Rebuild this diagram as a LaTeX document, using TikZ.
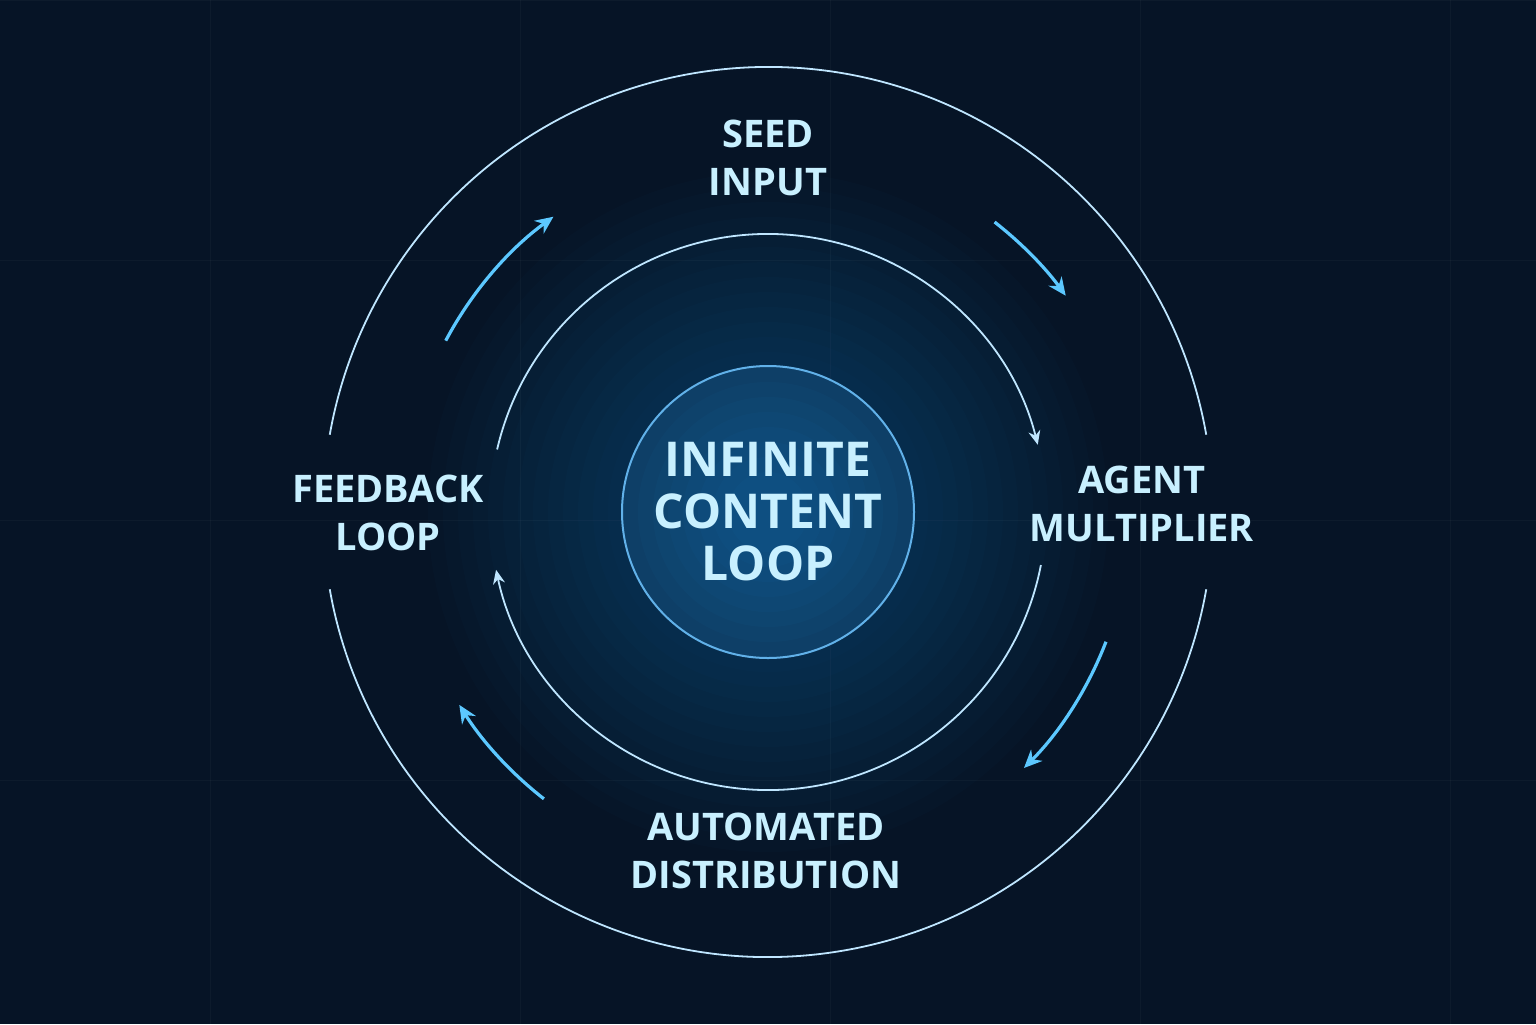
\documentclass[tikz,border=0pt]{standalone}
\usepackage{fontspec}
\setmainfont{Open Sans}
\usetikzlibrary{arrows.meta}
\definecolor{bg}{HTML}{061426}
\definecolor{ring}{HTML}{BFE6FF}
\definecolor{txt}{HTML}{C8F0FF}
\definecolor{glow}{HTML}{1E8FE0}
\definecolor{arr}{HTML}{5CC8FF}
\begin{document}
\begin{tikzpicture}[x=0.5pt,y=-0.5pt,
  lbl/.style={text=txt,font=\bfseries\fontsize{19}{24}\selectfont,align=center},
  ringline/.style={draw=ring,line width=0.9pt},
  oarrow/.style={draw=arr,line width=1.6pt,-{Stealth[length=9pt,width=8pt]}},
  iarrow/.style={draw=ring,line width=0.9pt,-{Stealth[length=7pt,width=6pt]}}]
\fill[bg] (0,0) rectangle (1536,1024);
\useasboundingbox (0,0) rectangle (1536,1024);
\foreach \x in {210,520,830,1140,1450}{\draw[white,opacity=0.03] (\x,0)--(\x,1024);}
\foreach \y in {0,260,520,780}{\draw[white,opacity=0.03] (0,\y)--(1536,\y);}
\coordinate (c) at (768,512);
% glow
\foreach \r in {340,325,...,160}{\fill[glow,opacity=0.018] (c) circle[radius=\r];}
\node[circle,minimum size=146pt,inner sep=0,fill=glow!35!bg,draw=glow!70!white,line width=1pt] (core) at (c) {};
\foreach \r in {130,115,...,40}{\fill[glow,opacity=0.04] (c) circle[radius=\r];}
\node[lbl,font=\bfseries\fontsize{24}{26}\selectfont] (title) at (c) {INFINITE\\CONTENT\\LOOP};
% outer ring
\draw[ringline] ([shift={(-10:445)}]c) arc[start angle=-10,end angle=-170,radius=445];
\draw[ringline] ([shift={(-190:445)}]c) arc[start angle=-190,end angle=-350,radius=445];
% inner ring
\draw[iarrow] ([shift={(-167:278)}]c) arc[start angle=-167,end angle=-14,radius=278];
\draw[iarrow] ([shift={(11:278)}]c) arc[start angle=11,end angle=168,radius=278];
% outer arrows
\draw[oarrow] ([shift={(-152:365)}]c) arc[start angle=-152,end angle=-126,radius=365];
\draw[oarrow] ([shift={(-52:368)}]c) arc[start angle=-52,end angle=-36,radius=368];
\draw[oarrow] ([shift={(21:362)}]c) arc[start angle=21,end angle=45,radius=362];
\draw[oarrow] ([shift={(128:364)}]c) arc[start angle=128,end angle=148,radius=364];
% labels
\node[lbl] (seed) at (768,158) {SEED\\INPUT};
\node[lbl] (agent) at (1142,504) {AGENT\\MULTIPLIER};
\node[lbl] (dist) at (766,851) {AUTOMATED\\DISTRIBUTION};
\node[lbl] (fb) at (388,513) {FEEDBACK\\LOOP};
\end{tikzpicture}
\end{document}
